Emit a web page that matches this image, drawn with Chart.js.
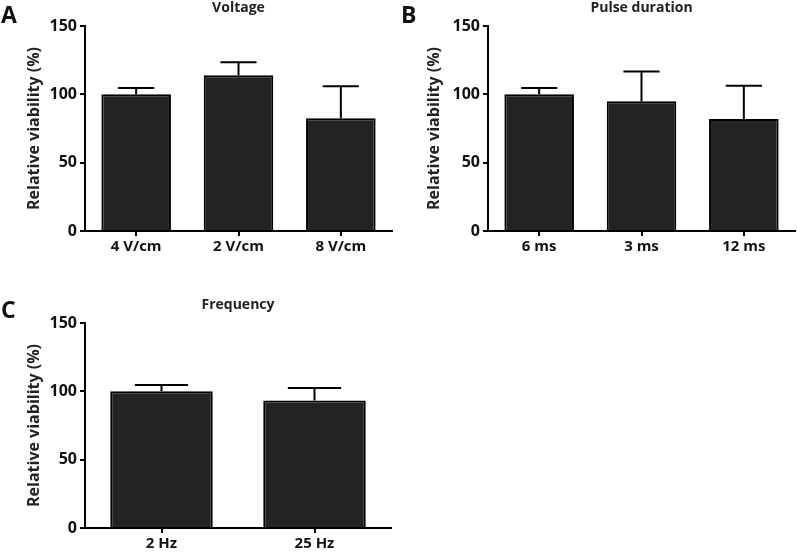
<!DOCTYPE html>
<html>
<head>
<meta charset="utf-8">
<script src="https://cdn.jsdelivr.net/npm/chart.js@4/dist/chart.umd.min.js"></script>
<style>
  html, body { margin: 0; padding: 0; background: #fff; }
  body { width: 797px; height: 552px; position: relative; overflow: hidden; }
  .panel { position: absolute; }
</style>
</head>
<body>
<div class="panel" style="left:0;top:0;width:400px;height:262px;"><canvas id="cA"></canvas></div>
<div class="panel" style="left:400px;top:0;width:397px;height:262px;"><canvas id="cB"></canvas></div>
<div class="panel" style="left:0;top:280px;width:400px;height:272px;"><canvas id="cC"></canvas></div>
<script>
// ---- data ----
const voltageLabels = ['4 V/cm', '2 V/cm', '8 V/cm'];
const voltageMeans  = [100, 114, 82.5];
const voltageSD     = [4.7, 9.5, 23.5];

const durationLabels = ['6 ms', '3 ms', '12 ms'];
const durationMeans  = [100, 95, 82];
const durationSD     = [4.7, 21.7, 24.2];

const frequencyLabels = ['2 Hz', '25 Hz'];
const frequencyMeans  = [100, 93.3];
const frequencySD     = [4.7, 9.2];

const yTicks = [0, 50, 100, 150];
const yAxisTitle = 'Relative viability (%)';

const FONT = '"Open Sans", "DejaVu Sans", sans-serif';

const errorBarPlugin = {
  id: 'errorBars',
  afterDatasetsDraw(chart, args, opts) {
    const ctx = chart.ctx;
    const meta = chart.getDatasetMeta(0);
    const ys = chart.scales.y;
    const sd = opts.sd || [];
    const means = chart.data.datasets[0].data;
    ctx.save();
    ctx.strokeStyle = '#000';
    ctx.lineWidth = 2;
    meta.data.forEach((el, i) => {
      const top = ys.getPixelForValue(means[i] + sd[i]);
      const base = el.y;
      const half = el.width * 0.26;
      ctx.beginPath();
      ctx.moveTo(el.x, base);
      ctx.lineTo(el.x, top);
      ctx.moveTo(el.x - half, top);
      ctx.lineTo(el.x + half, top);
      ctx.stroke();
    });
    ctx.restore();
  }
};

const annotPlugin = {
  id: 'panelText',
  afterDraw(chart, args, opts) {
    const ctx = chart.ctx;
    const area = chart.chartArea;
    ctx.save();
    ctx.fillStyle = '#111';
    ctx.font = 'bold 23px ' + FONT;
    ctx.textAlign = 'left';
    ctx.textBaseline = 'alphabetic';
    ctx.fillText(opts.letter, 1, opts.letterY);
    ctx.fillStyle = '#222';
    ctx.font = 'bold 14px ' + FONT;
    ctx.textAlign = 'center';
    ctx.fillText(opts.title, (area.left + area.right) / 2, area.top - 14);
    ctx.restore();
  }
};

function makeChart(id, labels, means, sd, letter, cfg) {
  return new Chart(document.getElementById(id), {
    type: 'bar',
    data: {
      labels: labels,
      datasets: [{
        data: means,
        backgroundColor: '#232323',
        borderColor: '#000',
        borderWidth: 2,
        barPercentage: cfg.barPct,
        categoryPercentage: 1.0
      }]
    },
    options: {
      responsive: true,
      maintainAspectRatio: false,
      animation: false,
      devicePixelRatio: 1,
      layout: { padding: { top: cfg.top, right: cfg.right, bottom: 0, left: 0 } },
      plugins: {
        legend: { display: false },
        tooltip: { enabled: false },
        errorBars: { sd: sd },
        panelText: { letter: letter, letterY: cfg.letterY, title: cfg.title }
      },
      scales: {
        x: {
          offset: true,
          grid: { display: true, drawOnChartArea: false, offset: false, tickLength: 5, color: '#000', lineWidth: 2 },
          border: { display: true, color: '#000', width: 2 },
          ticks: { color: '#111', font: { family: FONT, size: 15, weight: 'bold' }, padding: 2 },
          afterFit(scale) { scale.height = cfg.xh; }
        },
        y: {
          min: 0, max: 150,
          afterBuildTicks(scale) { scale.ticks = yTicks.map(v => ({ value: v })); },
          grid: { display: true, drawOnChartArea: false, tickLength: 5, color: '#000', lineWidth: 2 },
          border: { display: true, color: '#000', width: 2 },
          ticks: { color: '#111', font: { family: FONT, size: 16, weight: 'bold' }, padding: 3 },
          title: { display: true, text: yAxisTitle, color: '#222', font: { family: FONT, size: 16, weight: 'bold' }, padding: { top: 25, bottom: 0 } },
          afterFit(scale) { scale.width = cfg.yw; }
        }
      }
    },
    plugins: [errorBarPlugin, annotPlugin]
  });
}

makeChart('cA', voltageLabels, voltageMeans, voltageSD, 'A',
  { top: 26, right: 8, xh: 31, yw: 85, barPct: 0.68, letterY: 23, title: 'Voltage' });
makeChart('cB', durationLabels, durationMeans, durationSD, 'B',
  { top: 26, right: 2, xh: 31, yw: 88, barPct: 0.68, letterY: 23, title: 'Pulse duration' });
makeChart('cC', frequencyLabels, frequencyMeans, frequencySD, 'C',
  { top: 43, right: 9, xh: 24, yw: 85, barPct: 0.67, letterY: 38, title: 'Frequency' });
</script>
</body>
</html>
